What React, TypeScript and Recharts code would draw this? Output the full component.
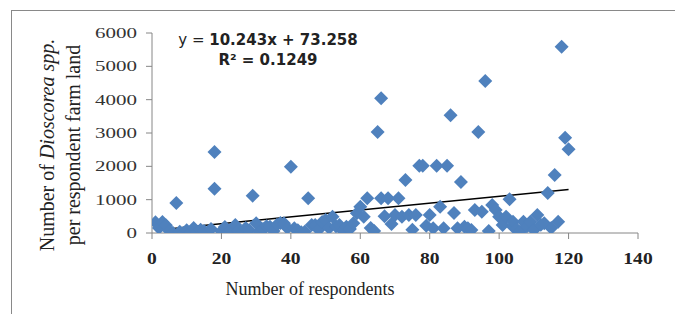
import React from 'react';
import { ScatterChart, Scatter, XAxis, YAxis, ReferenceLine, Label } from 'recharts';

// respondent number (x) and Dioscorea count on that farm land (y)
const respondentNo = [
  1, 2, 3, 4, 5, 6, 7, 8, 9, 10, 11, 12, 13, 14, 15, 16, 17, 18, 18, 20,
  21, 22, 23, 24, 25, 26, 27, 28, 29, 30, 31, 32, 33, 34, 35, 36, 37, 38, 39, 40,
  41, 42, 43, 44, 45, 46, 47, 48, 49, 50, 51, 52, 53, 54, 55, 56, 57, 58, 59, 60,
  61, 62, 63, 64, 65, 66, 66, 67, 68, 69, 70, 71, 72, 73, 74, 75, 76, 77, 78, 79, 80,
  81, 82, 83, 84, 85, 86, 87, 88, 89, 90, 91, 92, 93, 94, 95, 96, 97, 98, 99, 100,
  101, 102, 103, 104, 104, 105, 106, 107, 108, 109, 110, 111, 112, 113, 114, 115, 116, 117, 118, 119, 120,
];
const dioscoreaCount = [
  320, 150, 330, 230, 60, 10, 900, 40, 0, 80, 30, 150, 20, 100, 60, 0, 120, 1330, 2430, 50,
  180, 30, 90, 240, 60, 10, 150, 80, 1120, 290, 40, 120, 200, 190, 60, 250, 300, 290, 150, 1990,
  140, 80, 20, 40, 1040, 240, 240, 100, 330, 390, 150, 490, 200, 240, 60, 190, 120, 290, 590, 790,
  490, 1040, 150, 60, 3030, 4040, 1040, 500, 1040, 270, 540, 1040, 490, 1590, 540, 100, 540, 2020, 2020, 220, 540,
  140, 2020, 790, 140, 2020, 3530, 600, 140, 1530, 190, 140, 90, 690, 3030, 640, 4560, 60, 840, 690, 490,
  240, 490, 1010, 190, 340, 120, 40, 340, 200, 340, 90, 540, 250, 290, 1200, 150, 1740, 340, 5590, 2860, 2510,
];

// linear trend y = 10.243x + 73.258, drawn across the data range
const trendX = [1, 120];
const trendY = [84, 1302];

const xTicks = [0, 20, 40, 60, 80, 100, 120, 140];
const yTicks = [0, 1000, 2000, 3000, 4000, 5000, 6000];

const data = respondentNo.map((x, i) => ({ x, y: dioscoreaCount[i] }));

const Diamond = (props: any) => {
  const { cx, cy } = props;
  const r = 7;
  return <path d={`M${cx},${cy - r}L${cx + r},${cy}L${cx},${cy + r}L${cx - r},${cy}Z`} fill="#4F81BD" />;
};

const YTick = ({ x, y, payload }: any) => (
  <text
    transform={`translate(${x},${y}) scale(1.5,1)`}
    textAnchor="end"
    dy="0.35em"
    fontFamily="Liberation Serif"
    fontSize={14}
    fill="#333"
  >
    {payload.value}
  </text>
);

const XTick = ({ x, y, payload }: any) => (
  <text
    transform={`translate(${x},${y}) scale(1.15,1)`}
    textAnchor="middle"
    dy="0.71em"
    fontFamily="Liberation Serif"
    fontWeight="bold"
    fontSize={17}
    fill="#222"
  >
    {payload.value}
  </text>
);

const App: React.FC = () => {
  return (
    <div style={{ position: 'absolute', left: 0, top: 0, width: 675, height: 314 }}>
      <div
        style={{
          position: 'absolute',
          left: 11,
          top: 10,
          width: 664,
          height: 304,
          borderLeft: '1px solid #898989',
          borderTop: '1px solid #898989',
          boxSizing: 'border-box',
        }}
      />
      <ScatterChart width={675} height={314} margin={{ top: 33, right: 37, bottom: 0, left: 0 }}>
        <XAxis
          type="number"
          dataKey="x"
          domain={[0, 140]}
          ticks={xTicks}
          stroke="#868686"
          tickSize={6}
          tickMargin={13}
          tick={<XTick />}
          height={81}
          allowDataOverflow
        >
          <Label
            content={() => (
              <text x={310} y={295} textAnchor="middle" fontFamily="Liberation Serif" fontSize={18} fill="#222">
                Number of respondents
              </text>
            )}
          />
        </XAxis>
        <YAxis
          type="number"
          dataKey="y"
          domain={[0, 6000]}
          ticks={yTicks}
          stroke="#868686"
          tickSize={6}
          tickMargin={9}
          tick={<YTick />}
          width={152}
          allowDataOverflow
        >
          <Label
            content={() => (
              <g fontFamily="Liberation Serif" fontSize={20} fill="#222">
                <text transform="translate(54,145) rotate(-90)" textAnchor="middle">
                  Number of <tspan fontStyle="italic">Dioscorea spp.</tspan>
                </text>
                <text transform="translate(80,145) rotate(-90)" textAnchor="middle">
                  per respondent farm land
                </text>
              </g>
            )}
          />
        </YAxis>
        <Scatter data={data} shape={<Diamond />} isAnimationActive={false} />
        <ReferenceLine
          segment={[
            { x: trendX[0], y: trendY[0] },
            { x: trendX[1], y: trendY[1] },
          ]}
          stroke="#000"
          strokeWidth={1.5}
        />
      </ScatterChart>
      <svg
        width={675}
        height={314}
        style={{ position: 'absolute', left: 0, top: 0, pointerEvents: 'none' }}
      >
        <text x={268} y={45} textAnchor="middle" fontFamily="DejaVu Sans" fontSize={15} fill="#222">
          y = <tspan fontWeight="bold">10.243x + 73.258</tspan>
        </text>
        <text x={268} y={65} textAnchor="middle" fontFamily="DejaVu Sans" fontSize={15} fontWeight="bold" fill="#222">
          R² = 0.1249
        </text>
      </svg>
    </div>
  );
};

export default App;
